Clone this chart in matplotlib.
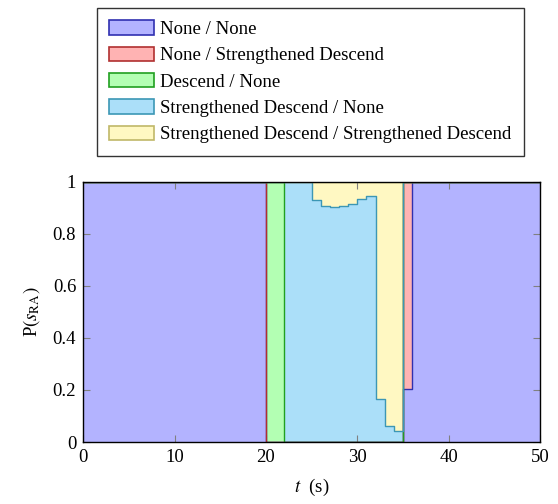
import matplotlib.pyplot as plt
from matplotlib.patches import Patch

plt.rcParams['font.family'] = ['Liberation Serif', 'DejaVu Serif']
plt.rcParams['mathtext.fontset'] = 'stix'

# segment start times (s); each value holds until the next time
times = [0, 20, 22, 25, 26, 27, 28, 29, 30, 31, 32, 33, 34, 35, 36, 50]

none_none = [1, 0, 0, 0, 0, 0, 0, 0, 0, 0, 0, 0, 0, 0.204, 1, 1]
none_sd = [0, 0, 0, 0, 0, 0, 0, 0, 0, 0, 0, 0, 0, 0.796, 0, 0]
desc_none = [0, 1, 0, 0, 0, 0, 0, 0, 0, 0, 0, 0, 0, 0, 0, 0]
sd_none = [0, 0, 1, 0.931, 0.908, 0.903, 0.908, 0.915, 0.933, 0.946,
           0.164, 0.062, 0.044, 0, 0, 0]
sd_sd = [0, 0, 0, 0.069, 0.092, 0.097, 0.092, 0.085, 0.067, 0.054,
         0.836, 0.938, 0.956, 0, 0, 0]

labels = ['None / None', 'None / Strengthened Descend', 'Descend / None',
          'Strengthened Descend / None',
          'Strengthened Descend / Strengthened Descend']
fills = ['#b3b3ff', '#ffb3b3', '#b3ffb3', '#abdff9', '#fff8c2']
edges = ['#3030b0', '#b03030', '#20a020', '#3c97b5', '#c0b868']

fig = plt.figure(figsize=(5.58, 5.04), dpi=100)
ax = fig.add_axes([0.149, 0.123, 0.819, 0.516])

series = [none_none, none_sd, desc_none, sd_none, sd_sd]
bottom = [0.0] * len(times)
for vals, fc, ec in zip(series, fills, edges):
    top = [b + v for b, v in zip(bottom, vals)]
    ax.fill_between(times, bottom, top, step='post', facecolor=fc,
                    edgecolor='none', linewidth=0)
    ax.step(times, top, where='post', color=ec, linewidth=1.0)
    bottom = top

ax.set_xlim(0, 50)
ax.set_ylim(0, 1)
ax.set_xticks([0, 10, 20, 30, 40, 50])
ax.set_yticks([0, 0.2, 0.4, 0.6, 0.8, 1])
ax.set_yticklabels(['0', '0.2', '0.4', '0.6', '0.8', '1'])
ax.tick_params(direction='in', color='#808080', length=5, width=0.8,
               labelsize=13.5, top=True, right=True, pad=5)
for s in ax.spines.values():
    s.set_linewidth(1.0)
    s.set_zorder(5)
ax.set_xlabel(r'$t$  (s)', fontsize=13.5, labelpad=8)
ax.set_ylabel(r'P$(s_{\mathrm{RA}})$', fontsize=13.5, labelpad=8)

handles = [Patch(facecolor=fc, edgecolor=ec, linewidth=1.2)
           for fc, ec in zip(fills, edges)]
leg = fig.legend(handles, labels, loc='upper left',
                 bbox_to_anchor=(0.174, 0.984), fontsize=13.5,
                 frameon=True, fancybox=False, edgecolor='black',
                 handlelength=2.4, handleheight=0.8, labelspacing=0.46,
                 handletextpad=0.3, borderpad=0.66, borderaxespad=0)
leg.get_frame().set_linewidth(1.0)

fig.savefig('out.png', dpi=100)
